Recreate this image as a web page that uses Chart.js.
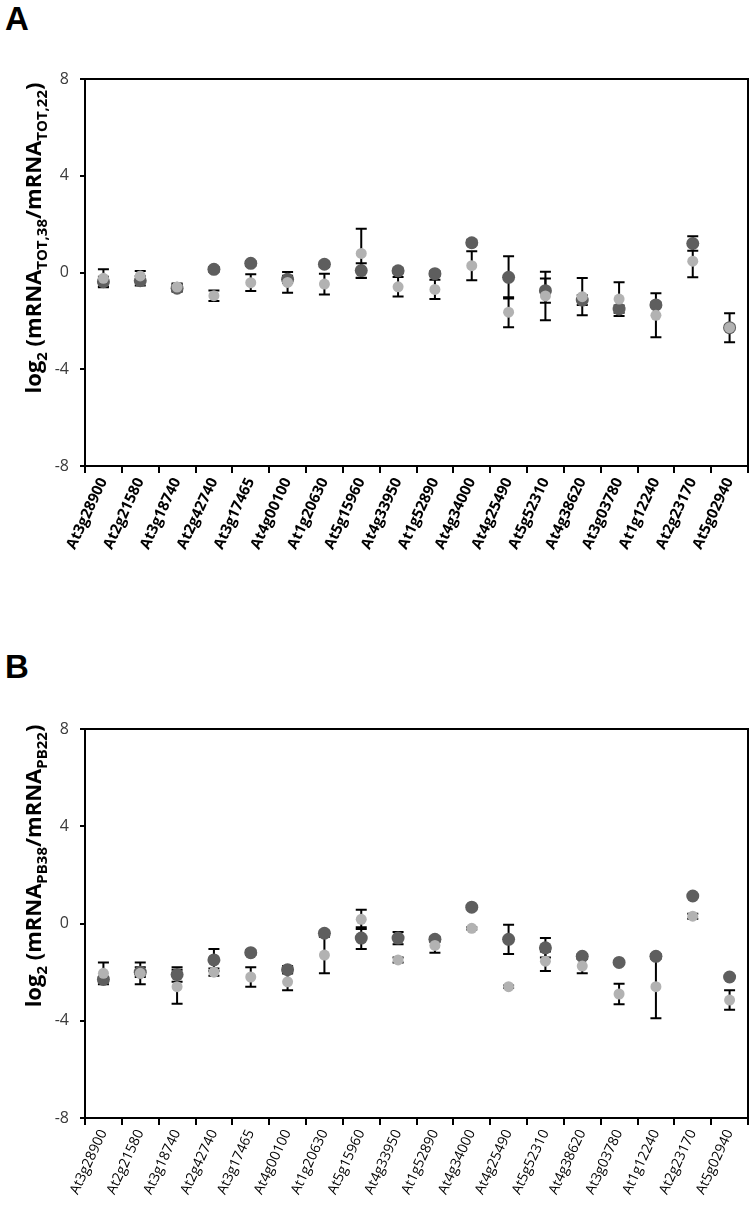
<!DOCTYPE html>
<html>
<head>
<meta charset="utf-8">
<script src="https://cdn.jsdelivr.net/npm/chart.js@4.4.1/dist/chart.umd.min.js"></script>
<style>
  body { margin: 0; background: #fff; width: 755px; height: 1222px; position: relative; overflow: hidden; }
  .panel { position: absolute; left: 5px; font: bold 33px "Liberation Sans", Arial, sans-serif; color: #000; }
  .wrap { position: absolute; left: 0; width: 755px; }
</style>
</head>
<body>
<div class="panel" style="top:0px">A</div>
<div class="panel" style="top:648px">B</div>
<div class="wrap" style="top:0;height:600px"><canvas id="chartA" width="755" height="600"></canvas></div>
<div class="wrap" style="top:620px;height:602px"><canvas id="chartB" width="755" height="602"></canvas></div>
<script>
const genes = ["At3g28900", "At2g21580", "At3g18740", "At2g42740", "At3g17465", "At4g00100",
  "At1g20630", "At5g15960", "At4g33950", "At1g52890", "At4g34000", "At4g25490",
  "At5g52310", "At4g38620", "At3g03780", "At1g12240", "At2g23170", "At5g02940"];
const yTicks = [-8, -4, 0, 4, 8];

// panel A (total mRNA)
const darkA = [-0.38, -0.34, -0.65, 0.13, 0.38, -0.28, 0.34, 0.08, 0.07, -0.05, 1.23, -0.2, -0.75, -1.14, -1.51, -1.34, 1.2, -2.28];
const darkAErr = [0.2, 0.2, 0.15, 0.1, 0.1, 0.15, 0.1, 0.3, 0.1, 0.1, 0.1, 0.87, 0.5, 0.2, 0.15, 0.1, 0.3, 0.1];
const lightA = [-0.24, -0.14, -0.6, -0.96, -0.42, -0.41, -0.48, 0.79, -0.59, -0.7, 0.28, -1.64, -0.97, -1.0, -1.1, -1.77, 0.47, -2.28];
const lightAErr = [0.37, 0.2, 0.15, 0.22, 0.35, 0.43, 0.43, 1.02, 0.4, 0.4, 0.6, 0.62, 1.0, 0.77, 0.7, 0.91, 0.67, 0.6];

// panel B (polysome bound mRNA)
const darkB = [-2.3, -2.0, -2.1, -1.5, -1.2, -1.9, -0.4, -0.6, -0.6, -0.65, 0.67, -0.65, -1.0, -1.35, -1.6, -1.35, 1.13, -2.2];
const darkBErr = [0.1, 0.2, 0.3, 0.45, 0.1, 0.15, 0.1, 0.45, 0.25, 0.1, 0.05, 0.6, 0.4, 0.1, 0.05, 0.1, 0.05, 0.05];
const lightB = [-2.05, -2.05, -2.6, -2.0, -2.2, -2.4, -1.3, 0.17, -1.5, -0.9, -0.2, -2.6, -1.55, -1.75, -2.9, -2.6, 0.3, -3.15];
const lightBErr = [0.45, 0.45, 0.7, 0.15, 0.4, 0.35, 0.75, 0.4, 0.1, 0.3, 0.05, 0.05, 0.4, 0.3, 0.42, 1.3, 0.1, 0.4];

const titleA = [["log", 0], ["2", 1], [" (mRNA", 0], ["TOT,38", 1], ["/mRNA", 0], ["TOT,22", 1], [")", 0]];
const titleB = [["log", 0], ["2", 1], [" (mRNA", 0], ["PB38", 1], ["/mRNA", 0], ["PB22", 1], [")", 0]];

const FONT = "'Open Sans', 'Liberation Sans', sans-serif";

// black error bars, drawn under the markers
const errorBars = {
  id: "errorBars",
  beforeDatasetsDraw(chart) {
    const ctx = chart.ctx;
    const ys = chart.scales.y;
    ctx.save();
    ctx.strokeStyle = "#000";
    ctx.lineWidth = 2;
    chart.data.datasets.forEach((ds, di) => {
      const meta = chart.getDatasetMeta(di);
      meta.data.forEach((pt, i) => {
        const e = ds.errors[i];
        const top = ys.getPixelForValue(ds.data[i] + e);
        const bot = ys.getPixelForValue(ds.data[i] - e);
        ctx.beginPath();
        ctx.moveTo(pt.x, top); ctx.lineTo(pt.x, bot);
        ctx.moveTo(pt.x - 5.5, top); ctx.lineTo(pt.x + 5.5, top);
        ctx.moveTo(pt.x - 5.5, bot); ctx.lineTo(pt.x + 5.5, bot);
        ctx.stroke();
      });
    });
    ctx.restore();
  },
  afterDraw(chart) {
    // box round the plot area
    const a = chart.chartArea;
    const ctx = chart.ctx;
    ctx.save();
    ctx.strokeStyle = "#000";
    ctx.lineWidth = 2;
    ctx.strokeRect(a.left, a.top, a.right - a.left, a.bottom - a.top);
    ctx.restore();
  }
};

// rotated axis title with subscripts
const subTitle = {
  id: "subTitle",
  afterDraw(chart, args, opts) {
    const ctx = chart.ctx;
    const size = opts.size;
    const parts = opts.parts;
    const fontOf = s => "bold " + (s ? Math.round(size * 0.66) : size) + "px " + FONT;
    let total = 0;
    parts.forEach(p => { ctx.font = fontOf(p[1]); total += ctx.measureText(p[0]).width; });
    ctx.save();
    ctx.translate(opts.x, opts.y);
    ctx.rotate(-Math.PI / 2);
    ctx.fillStyle = "#000";
    ctx.textBaseline = "alphabetic";
    let x = -total / 2;
    parts.forEach(p => {
      ctx.font = fontOf(p[1]);
      ctx.fillText(p[0], x, p[1] ? size * 0.62 : size * 0.35);
      x += ctx.measureText(p[0]).width;
    });
    ctx.restore();
  }
};

function makeChart(id, dark, darkErr, light, lightErr, parts, titleY, padTop, xHeight, labelBold) {
  const el = document.getElementById(id);
  if (!el) return;
  new Chart(el.getContext("2d"), {
    type: "line",
    data: {
      labels: genes,
      datasets: [
        {
          label: "38 vs 22 (b)",
          data: light,
          errors: lightErr,
          showLine: false,
          pointRadius: 5.5,
          pointBackgroundColor: "#b2b2b2",
          pointBorderWidth: 0,
          borderColor: "#b2b2b2",
        },
        {
          label: "38 vs 22 (a)",
          data: dark,
          errors: darkErr,
          showLine: false,
          pointRadius: 6.5,
          pointBackgroundColor: "#5e5e5e",
          pointBorderWidth: 0,
          borderColor: "#5e5e5e",
        },
      ],
    },
    options: {
      responsive: false,
      animation: false,
      layout: { padding: { left: 0, right: 7, top: padTop, bottom: 0 } },
      plugins: {
        legend: { display: false },
        tooltip: { enabled: false },
        subTitle: { parts: parts, x: 33, y: titleY, size: 22 },
      },
      scales: {
        y: {
          min: -8,
          max: 8,
          afterFit: s => { s.width = 85; },
          afterBuildTicks: s => { s.ticks = yTicks.map(v => ({ value: v })); },
          ticks: { font: { family: FONT, size: 16 }, color: "#3a3a3a", padding: 11 },
          grid: { drawOnChartArea: false, tickLength: 5, color: "#000", lineWidth: 2 },
          border: { color: "#000", width: 2 },
        },
        x: {
          afterFit: s => { s.height = xHeight; },
          offset: true,
          ticks: {
            autoSkip: false,
            maxRotation: 65,
            minRotation: 65,
            padding: 2,
            color: "#000",
            font: { family: FONT, size: labelBold ? 15 : 14, weight: labelBold ? "bold" : "normal" },
          },
          grid: { offset: true, drawOnChartArea: false, tickLength: 7, color: "#000", lineWidth: 2 },
          border: { color: "#000", width: 2 },
        },
      },
    },
    plugins: [errorBars, subTitle],
  });
}

makeChart("chartA", darkA, darkAErr, lightA, lightAErr, titleA, 238, 79, 134, true);
makeChart("chartB", darkB, darkBErr, lightB, lightBErr, titleB, 246, 109, 104, false);
</script>
</body>
</html>
